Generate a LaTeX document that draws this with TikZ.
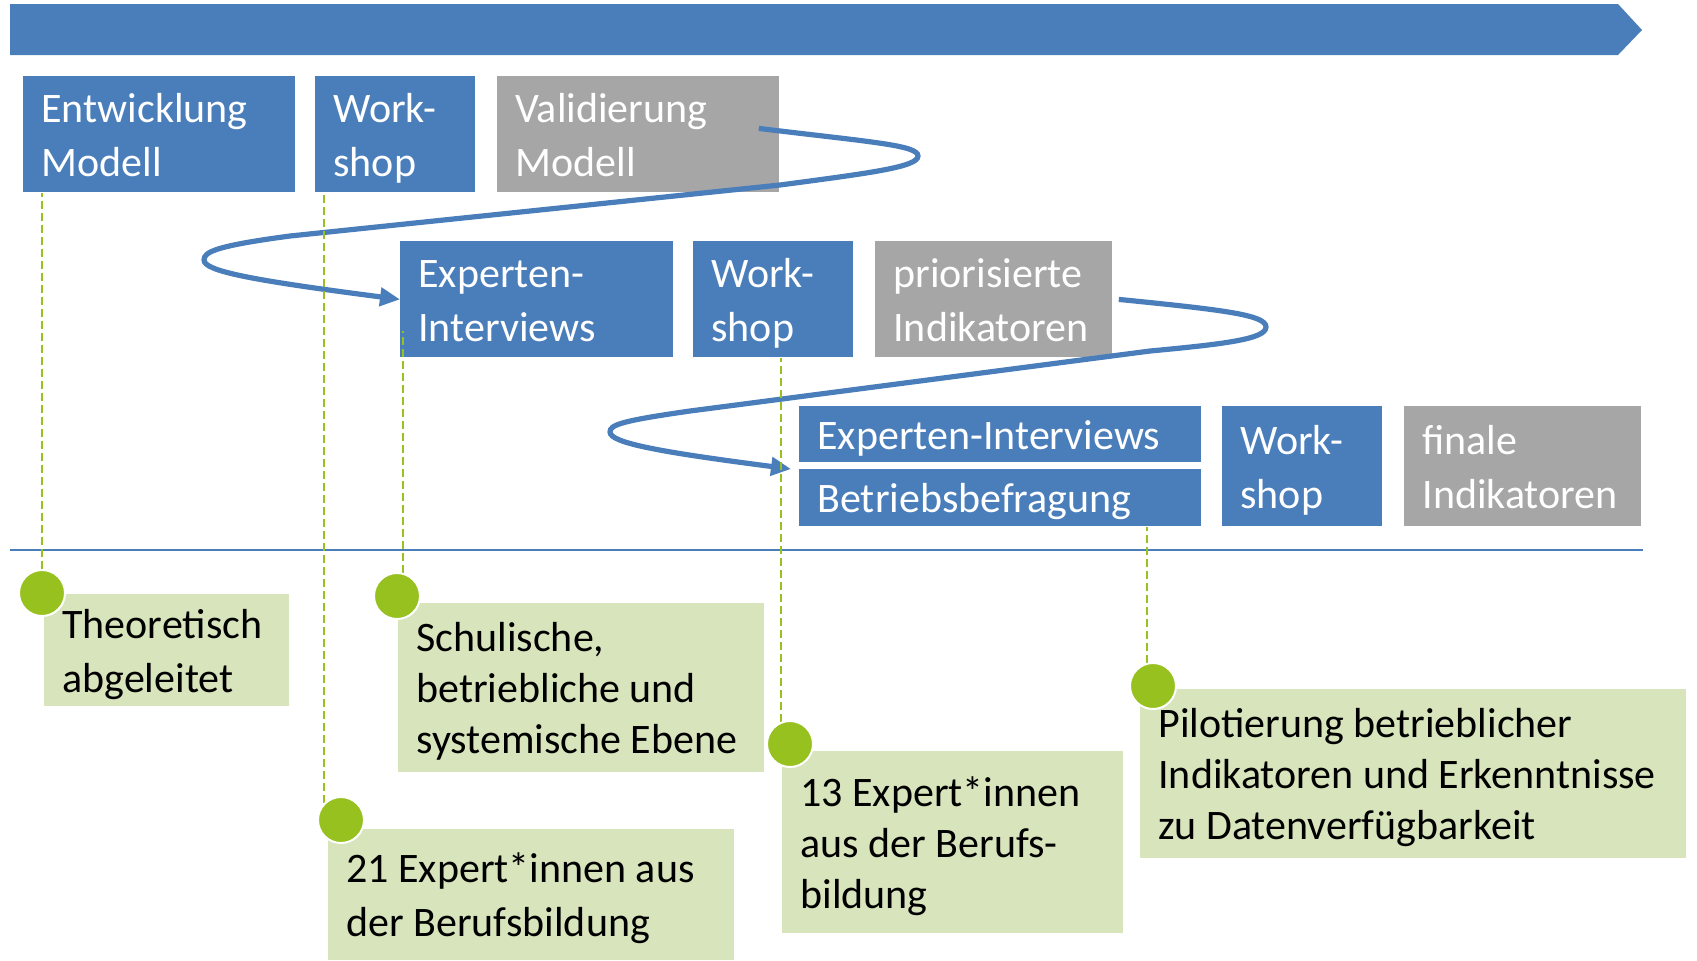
\documentclass[tikz,border=0pt]{standalone}
\usepackage{fontspec}
\setmainfont{Carlito}
\usetikzlibrary{arrows.meta}
\definecolor{boxblue}{RGB}{74,126,187}
\definecolor{boxgray}{RGB}{166,166,166}
\definecolor{dotgreen}{RGB}{150,193,31}
\definecolor{notegreen}{RGB}{216,228,188}
\pgfdeclarelayer{front}
\pgfsetlayers{main,front}
\newcommand{\linestrut}{\rule[-5.5pt]{0pt}{26pt}}
\tikzset{
  stepbox/.style={fill=boxblue, text=white, anchor=north west, align=flush left,
    inner xsep=9pt, inner ysep=0pt, font=\fontsize{21}{25.5}\selectfont,
    execute at begin node=\linestrut, execute at end node=\linestrut},
  graybox/.style={stepbox, fill=boxgray},
  notebox/.style={stepbox, fill=notegreen, text=black},
  dot/.style={circle, fill=dotgreen, draw=white, line width=1pt,
    minimum size=23pt, inner sep=0pt},
  guide/.style={dotgreen, line width=1pt, dash pattern=on 4pt off 2pt},
  hairpin/.style={boxblue, line width=2.6pt, -{Triangle[length=10pt,width=9pt]}}
}
\newcommand{\stage}[6]{
\node[#1, text width=#4, minimum height=#5] (#2) at #3 {#6};}
\newcommand{\note}[5]{
\node[notebox, text width=#3, minimum height=#4] (#1) at #2 {#5};}

\begin{document}
\begin{tikzpicture}[x=0.5pt,y=-0.5pt]
\useasboundingbox (0,0) rectangle (1697,960);
\fill[boxblue] (10,4) -- (1618,4) -- (1642,30) -- (1618,55) -- (10,55) -- cycle;
\draw[boxblue, line width=1pt] (10,550) -- (1643,550);

\stage{stepbox}{ent}{(23,76)}{118pt}{58pt}{Entwicklung\\Modell}
\stage{stepbox}{ws1}{(315,76)}{62pt}{58pt}{Work-\\shop}
\stage{graybox}{val}{(497,76)}{123pt}{58pt}{Validierung\\Modell}

\stage{stepbox}{exp1}{(400,241)}{118.5pt}{58pt}{Experten-\\Interviews}
\stage{stepbox}{ws2}{(693,241)}{62pt}{58pt}{Work-\\shop}
\stage{graybox}{prio}{(875,241)}{100.5pt}{58pt}{priorisierte\\Indikatoren}

\stage{stepbox}{exp2}{(799,406)}{183pt}{28pt}{Experten-Interviews}
\stage{stepbox}{bef}{(799,469)}{183pt}{28.5pt}{Betriebsbefragung}
\stage{stepbox}{ws3}{(1222,406)}{62pt}{60pt}{Work-\\shop}
\stage{graybox}{fin}{(1404,406)}{100.5pt}{60pt}{finale\\Indikatoren}

\note{th}{(44,594)}{104.5pt}{56pt}{Theoretisch\\abgeleitet}
\note{sch}{(398,603)}{165pt}{84.5pt}{Schulische,\\betriebliche und\\systemische Ebene}
\note{e21}{(328,829)}{185pt}{65.5pt}{21 Expert*innen aus\\der Berufsbildung}
\note{e13}{(782,751)}{152.5pt}{91pt}{13 Expert*innen\\aus der Berufs-\\bildung}
\note{pil}{(1140,689)}{255pt}{84.5pt}{Pilotierung betrieblicher\\Indikatoren und Erkenntnisse\\zu Datenverfügbarkeit}

\begin{pgfonlayer}{front}
\node[dot] (c1) at (42,593) {};
\node[dot] (c2) at (397,596) {};
\node[dot] (c3) at (341,820) {};
\node[dot] (c4) at (790,744) {};
\node[dot] (c5) at (1153,686) {};
\end{pgfonlayer}

\coordinate (gap) at ([xshift=-4pt]bef.north west);
\draw[hairpin] ([xshift=-10.5pt,yshift=3pt]val.east) .. controls (870,142) and (918,145) .. (918,156)
  .. controls (918,167) and (870,173) .. (780,185) -- (290,236)
  .. controls (215,246) and (204,252) .. (204,260)
  .. controls (204,271) and (250,280) .. (exp1.west);
\draw[hairpin] ([xshift=3pt]prio.east) .. controls (1225,310) and (1266,315) .. (1266,327)
  .. controls (1266,339) and (1225,344) .. (1150,351) -- (690,411)
  .. controls (620,421) and (610,425) .. (610,432)
  .. controls (610,443) and (660,452) .. (gap);

\coordinate (t3) at ([yshift=13.5pt]exp1.south);
\draw[guide] (c1.north) -- (c1.north |- ent.south);
\draw[guide] (c3.north west) -- (c3.north west |- ws1.south);
\draw[guide] (c2.75) -- (c2.75 |- t3);
\draw[guide] (c4.113) -- (c4.113 |- ws2.south);
\draw[guide] (c5.105) -- (c5.105 |- bef.south);
\end{tikzpicture}
\end{document}
